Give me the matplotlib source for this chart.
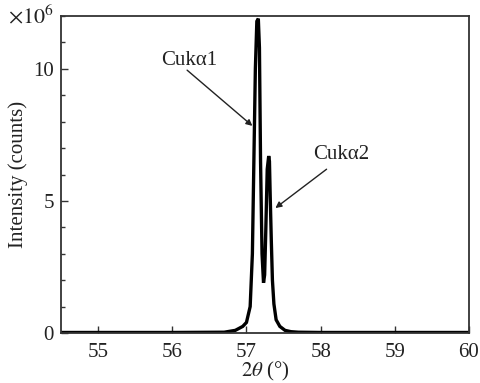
import matplotlib
matplotlib.use("Agg")
import matplotlib.pyplot as plt

# data (2theta in degrees, intensity in 1e6 counts)
two_theta = [54.5, 55.0, 56.0, 56.7, 56.85, 56.95, 57.0, 57.05, 57.08, 57.1, 57.12,
             57.14, 57.16, 57.175, 57.19, 57.21, 57.23, 57.245, 57.26, 57.28, 57.3,
             57.31, 57.32, 57.335, 57.35, 57.37, 57.4, 57.45, 57.52, 57.6, 57.7,
             58.0, 59.0, 60.0]
intensity = [0.02, 0.02, 0.02, 0.03, 0.1, 0.25, 0.4, 1.0, 3.0, 6.5, 10.0,
             11.8, 11.9, 10.8, 6.5, 3.0, 1.9, 2.2, 3.8, 6.2, 6.7,
             6.5, 5.2, 3.5, 2.0, 1.1, 0.5, 0.25, 0.1, 0.05, 0.03,
             0.02, 0.02, 0.02]
x_ticks = [55, 56, 57, 58, 59, 60]
y_ticks = [0, 5, 10]
labels = ["Cukα1", "Cukα2"]

plt.rcParams['font.family'] = ['Liberation Serif', 'DejaVu Serif']
plt.rcParams['mathtext.fontset'] = 'stix'
fig = plt.figure(figsize=(4.81, 3.83), dpi=100)
ax = fig.add_axes([61/481, 1-333/383, (469-61)/481, (333-16)/383])

ax.plot(two_theta, intensity, color='black', lw=2.4, solid_joinstyle='miter')
ax.set_xlim(54.5, 60)
ax.set_ylim(0, 12)
ax.set_xticks(x_ticks)
ax.set_yticks(y_ticks)
ax.set_yticks(range(0, 13), minor=True)
ax.tick_params(direction='in', which='both', labelsize=15, colors='#333333', labelcolor='#222222')
ax.tick_params(which='major', length=5, width=1)
ax.tick_params(which='minor', length=3, width=1)
ax.tick_params(axis='x', pad=7)
ax.tick_params(axis='y', pad=5)
for s in ax.spines.values():
    s.set_linewidth(1.3)
    s.set_color('#333333')

ax.set_xlabel(r"$2\theta$ (°)", fontsize=15, labelpad=-1, color='#222222')
ax.set_ylabel("Intensity (counts)", fontsize=15, labelpad=4, color='#222222')
fig.text(8/481, 1-17/383, r"$\times10^{6}$", fontsize=16, va='center', ha='left', color='#222222')

ax.text(56.23, 10.3, labels[0], fontsize=15, ha='center', va='center', color='#222222')
ax.annotate('', xy=(57.08, 7.84), xytext=(56.2, 9.95),
            arrowprops=dict(arrowstyle='-|>', color='#222222', lw=1, shrinkA=0, shrinkB=0,
                            mutation_scale=9))
ax.text(58.28, 6.75, labels[1], fontsize=15, ha='center', va='center', color='#222222')
ax.annotate('', xy=(57.39, 4.73), xytext=(58.08, 6.2),
            arrowprops=dict(arrowstyle='-|>', color='#222222', lw=1, shrinkA=0, shrinkB=0,
                            mutation_scale=9))

fig.savefig("out.png", dpi=100)
